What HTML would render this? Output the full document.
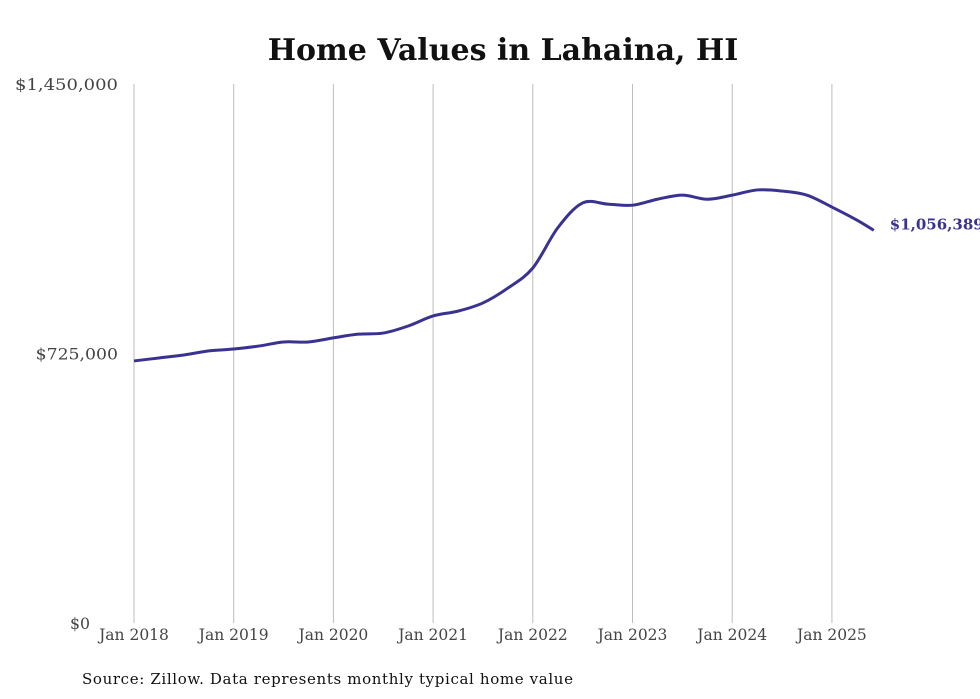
<!DOCTYPE html>
<html><head><meta charset="utf-8"><style>
html,body{margin:0;padding:0;background:#fff;width:980px;height:699px;overflow:hidden}
svg{display:block}
text{font-family:"DejaVu Serif","Liberation Serif",serif}
</style></head><body>
<svg id="chart" width="980" height="699">
<text x="503" y="60" text-anchor="middle" font-size="30" font-weight="bold" fill="#111">Home Values in Lahaina, HI</text>
<g id="grid"></g><g id="yticks"></g><g id="xticks"></g>
<path id="line" fill="none" stroke="#3a3291" stroke-width="3" stroke-linejoin="round"></path>
<text id="endlabel" font-size="15" font-weight="bold" fill="#3a3291"></text>
<text x="82" y="684" font-size="15" fill="#111" textLength="491">Source: Zillow. Data represents monthly typical home value</text>
</svg>
<script>
const dates = [2018.0,2018.25,2018.5,2018.75,2019.0,2019.25,2019.5,2019.75,2020.0,2020.25,2020.5,2020.75,2021.0,2021.25,2021.5,2021.75,2022.0,2022.25,2022.5,2022.75,2023.0,2023.25,2023.5,2023.75,2024.0,2024.25,2024.5,2024.75,2025.0,2025.25,2025.42];
const values = [705000,713000,721000,732000,737000,745000,756000,756000,767000,777000,780000,799000,826000,839000,861000,901000,955000,1063000,1130000,1127000,1124000,1140000,1151000,1140000,1151000,1165000,1162000,1151000,1119000,1084000,1056389];
const yTicks = [0,725000,1450000];
const yTickLabels = ["$0","$725,000","$1,450,000"];
const xTicks = [2018,2019,2020,2021,2022,2023,2024,2025];
const xTickLabels = ["Jan 2018","Jan 2019","Jan 2020","Jan 2021","Jan 2022","Jan 2023","Jan 2024","Jan 2025"];
const lastLabel = "$1,056,389";

const NS="http://www.w3.org/2000/svg";
const x = d => 134 + (d-2018)*99.7;
const y = v => 623 - v/1450000*539;
function mk(tag,attrs,parent,txt){const e=document.createElementNS(NS,tag);for(const k in attrs)e.setAttribute(k,attrs[k]);if(txt!=null)e.textContent=txt;document.getElementById(parent).appendChild(e);return e;}
xTicks.forEach((t,i)=>{
  const g=mk('line',{x1:x(t),x2:x(t),y1:84,y2:623,stroke:'#bdbdbd','stroke-width':1},'grid');
  
  
  const l=mk('text',{x:x(t),y:640,'text-anchor':'middle','font-size':15.5,fill:'#444'},'xticks',xTickLabels[i]);
  
  
});
yTicks.forEach((t,i)=>{
  const s=yTickLabels[i];
  const ax = s.length>3 ? 118 : 90;
  const w = s.length>3 ? s.length*10.3 : 20;
  const l=mk('text',{x:ax-w,y:y(t)+6,'font-size':16,fill:'#444',textLength:w,lengthAdjust:'spacingAndGlyphs'},'yticks',s);
  
  
});
const P=dates.map((d,i)=>[x(d),y(values[i])]);
let dstr='M'+P[0][0]+','+P[0][1];
for(let i=0;i<P.length-1;i++){
  const p0=P[Math.max(i-1,0)],p1=P[i],p2=P[i+1],p3=P[Math.min(i+2,P.length-1)];
  const c1=[p1[0]+(p2[0]-p0[0])/6,p1[1]+(p2[1]-p0[1])/6];
  const c2=[p2[0]-(p3[0]-p1[0])/6,p2[1]-(p3[1]-p1[1])/6];
  dstr+=' C'+c1+' '+c2+' '+p2;
}
document.getElementById('line').setAttribute('d',dstr);
const lbl=document.getElementById('endlabel');
const last=P[P.length-1];
lbl.setAttribute('x',last[0]+16);
lbl.setAttribute('y',last[1]-1);
lbl.textContent=lastLabel;
</script>
</body></html>
